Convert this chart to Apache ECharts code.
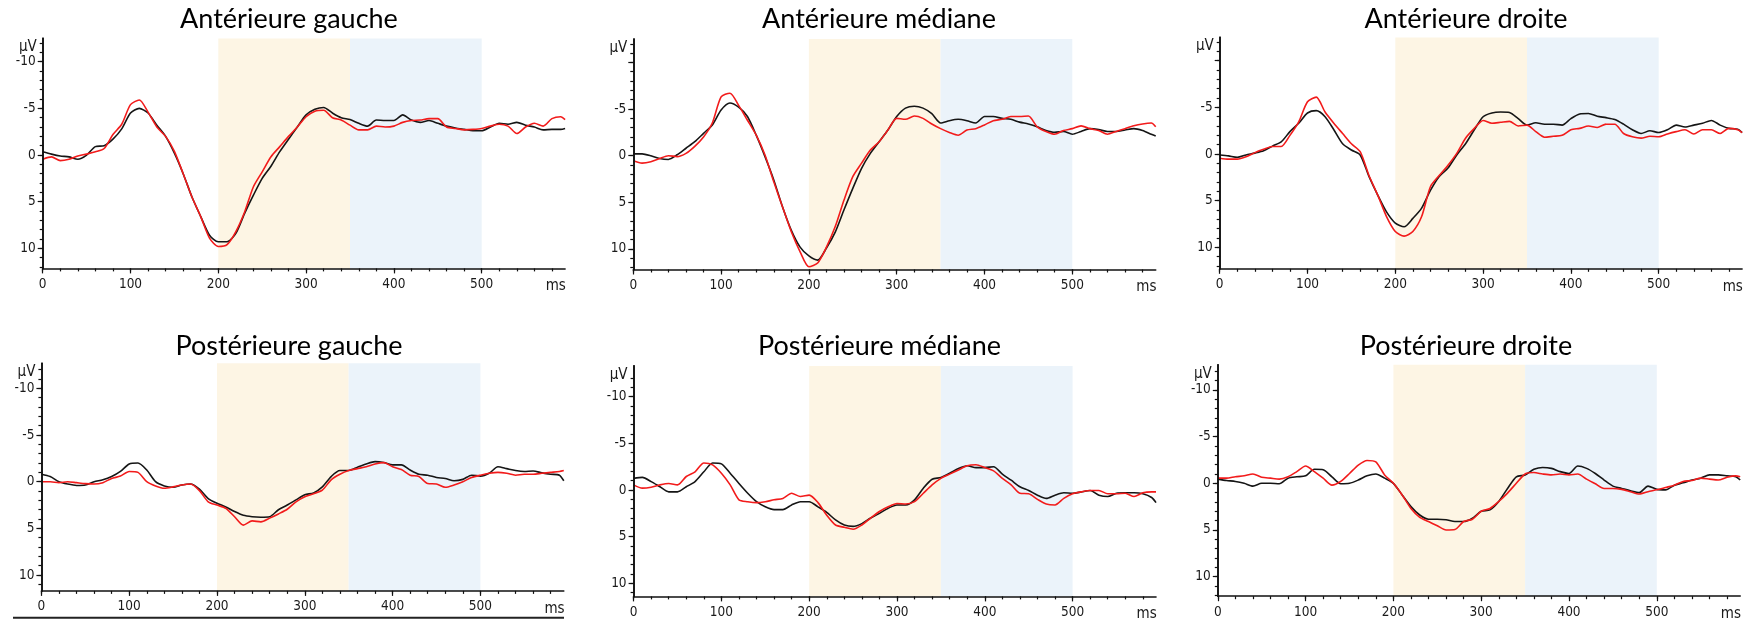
<!DOCTYPE html>
<html>
<head>
<meta charset="utf-8">
<script src="https://cdn.jsdelivr.net/npm/echarts@6/dist/echarts.min.js"></script>
<style>
html, body { margin: 0; padding: 0; background: #fff; }
#chart { width: 1756px; height: 621px; }
</style>
</head>
<body>
<div id="chart"></div>
<script>
// time axis (ms)
var times = [0,10,20,30,40,50,60,70,80,90,100,110,120,130,140,150,160,170,180,190,
  200,210,220,230,240,250,260,270,280,290,300,310,320,330,340,350,360,370,380,390,
  400,410,420,430,440,450,460,470,480,490,500,510,520,530,540,550,560,570,580,590,595];

var titles = ['Antérieure gauche', 'Antérieure médiane', 'Antérieure droite',
  'Postérieure gauche', 'Postérieure médiane', 'Postérieure droite'];

// µV, negative up
var antGaucheBlack = [-0.35,-0.1,0.1,0.2,0.45,0,-0.9,-1.0,-1.7,-2.8, -4.5,-5.0,-4.5,-3.2,-2.0,-0.2,2.0,4.5,6.6,8.6,
  9.3,9.3,8.4,6.25,4.3,2.5,1.2,-0.36,-1.7,-3.0, -4.3,-4.9,-5.1,-4.5,-4.0,-3.8,-3.4,-3.1,-3.75,-3.7,
  -3.7,-4.3,-3.75,-3.5,-3.7,-3.4,-3.1,-2.9,-2.75,-2.6, -2.6,-3.0,-3.4,-3.3,-3.5,-3.2,-3.0,-2.7,-2.75,-2.75, -2.85];
var antGaucheRed = [0.45,0.2,0.6,0.45,0.1,-0.1,-0.35,-0.7,-2.2,-3.3, -5.4,-5.9,-4.6,-3.0,-2.0,-0.4,2.0,4.5,6.6,8.9,
  9.8,9.6,8.2,6.1,3.4,1.8,0.18,-0.9,-2.0,-3.0, -4.1,-4.7,-4.8,-4.0,-3.75,-3.2,-2.7,-2.7,-3.1,-3.0,
  -3.1,-3.5,-3.7,-3.75,-3.9,-3.9,-3.0,-2.85,-2.7,-2.75, -2.85,-3.1,-3.3,-3.1,-2.3,-3.0,-3.4,-3.1,-3.9,-4.1, -3.8];

var antMedianeBlack = [-0.2,-0.2,0,0.3,0.4,-0.1,-0.8,-1.5,-2.4,-3.3, -4.9,-5.65,-5.2,-4.2,-2.2,0.1,2.6,5.5,8.0,9.8,
  10.75,11.2,9.9,8.2,5.8,3.5,1.35,-0.25,-1.5,-2.75, -4.2,-5.1,-5.3,-5.1,-4.5,-3.5,-3.75,-3.9,-3.75,-3.5,
  -4.2,-4.2,-4.0,-3.9,-3.6,-3.4,-3.1,-2.7,-2.5,-2.6, -2.3,-2.6,-2.9,-2.8,-2.6,-2.6,-2.75,-2.9,-2.7,-2.3, -2.1];
var antMedianeRed = [0.55,0.8,0.65,0.3,0,0.1,-0.25,-1.0,-2.0,-3.5, -6.3,-6.7,-5.4,-3.8,-2.2,-0.07,2.8,5.5,8.15,10.3,
  11.9,11.5,9.8,7.6,4.75,2.25,0.8,-0.6,-1.5,-2.75, -4.0,-3.9,-4.25,-4.0,-3.4,-2.9,-2.5,-2.2,-2.75,-2.9,
  -3.3,-3.75,-3.9,-4.2,-4.2,-4.25,-3.1,-2.6,-2.3,-2.7, -2.9,-3.2,-2.9,-2.7,-2.3,-2.6,-2.9,-3.2,-3.4,-3.5, -3.1];

var antDroiteBlack = [0.1,0.2,0.35,0.1,-0.1,-0.35,-0.85,-1.3,-2.4,-3.3, -4.4,-4.65,-4.0,-2.6,-1.1,-0.43,0.1,2.4,4.4,6.2,
  7.4,7.8,6.9,5.8,3.9,2.4,1.5,0.1,-1.1,-2.6, -4.0,-4.4,-4.5,-4.45,-3.8,-3.1,-3.35,-3.2,-3.2,-3.1,
  -3.8,-4.3,-4.35,-4.05,-3.9,-3.7,-3.2,-2.6,-2.2,-2.5, -2.3,-2.6,-3.1,-2.9,-3.1,-3.3,-3.6,-3.1,-2.75,-2.65, -2.3];
var antDroiteRed = [0.45,0.55,0.55,0.3,-0.15,-0.5,-0.8,-0.8,-2.0,-3.45, -5.6,-6.1,-4.5,-3.3,-2.2,-1.1,-0.25,2.3,4.4,6.7,
  8.3,8.8,8.3,6.7,3.5,2.3,1.2,-0.07,-1.7,-2.75, -3.6,-3.3,-3.4,-3.5,-3.0,-3.1,-2.4,-1.8,-1.9,-2.0,
  -2.6,-2.75,-3.0,-2.85,-3.2,-3.2,-2.2,-1.85,-1.7,-1.9, -1.85,-2.15,-2.4,-2.6,-2.15,-2.6,-2.6,-2.2,-2.75,-2.6, -2.3];

var postGaucheBlack = [-0.8,-0.55,0,0.25,0.4,0.35,0,-0.2,-0.55,-1.1, -1.9,-2.0,-1.25,0,0.45,0.6,0.35,0.25,0.8,1.8,
  2.3,2.7,3.2,3.6,3.75,3.8,3.75,3.0,2.5,1.95, 1.4,1.2,0.55,-0.55,-1.2,-1.2,-1.55,-1.9,-2.15,-2.05,
  -1.8,-1.8,-1.25,-0.8,-0.7,-0.45,-0.35,-0.1,-0.25,-0.7, -0.6,-0.9,-1.6,-1.4,-1.2,-1.1,-1.15,-0.95,-0.8,-0.7, -0.1];
var postGaucheRed = [0,0,0.1,0,0.1,0.2,0.25,0.1,-0.35,-0.6, -1.1,-1.0,0,0.45,0.7,0.55,0.35,0.25,0.95,2.15,
  2.5,2.85,3.75,4.65,4.2,4.3,3.9,3.45,2.95,2.15, 1.6,1.3,0.9,-0.2,-0.8,-1.2,-1.4,-1.6,-1.9,-2.05,
  -1.6,-1.3,-0.7,-0.55,0.2,0.25,0.6,0.35,0,-0.45, -0.7,-0.9,-1.0,-0.9,-0.7,-0.8,-0.8,-0.9,-1.0,-1.1, -1.2];

var postMedianeBlack = [-1.25,-1.35,-0.9,-0.35,0.2,0.2,-0.35,-0.9,-1.95,-2.9, -2.8,-1.8,-0.7,0.35,1.25,1.8,2.1,2.1,1.6,1.25,
  1.25,1.8,2.4,3.2,3.75,3.9,3.6,3.0,2.5,1.95, 1.6,1.6,1.05,-0.2,-1.15,-1.35,-1.8,-2.3,-2.6,-2.4,
  -2.4,-2.5,-1.7,-1.05,-0.35,0.05,0.55,0.9,0.55,0.3, 0.35,0.2,0.05,0.55,0.7,0.35,0.3,0.3,0.4,0.8, 1.35];
var postMedianeRed = [-0.55,-0.2,-0.3,-0.55,-0.7,-0.55,-1.45,-1.95,-2.9,-2.7, -1.8,-0.55,1.05,1.25,1.35,1.25,1.05,0.9,0.35,0.7,
  0.55,1.35,2.7,3.75,4.0,4.2,3.75,3.0,2.3,1.8, 1.45,1.5,1.25,0.35,-0.55,-1.25,-1.7,-2.15,-2.6,-2.7,
  -2.4,-2.05,-1.25,-0.55,0.35,0.4,1.0,1.5,1.6,0.9, 0.4,0.2,0.05,0.05,0.4,0.4,0.35,0.7,0.3,0.2, 0.2];

var postDroiteBlack = [-0.45,-0.3,-0.2,0,0.3,0,0,0.05,-0.55,-0.7, -0.8,-1.5,-1.45,-0.7,0.05,0,-0.35,-0.8,-1.0,-0.55,
  0,1.25,2.5,3.4,3.85,3.85,3.9,4.1,4.1,3.75, 3.0,2.85,1.95,0.55,-0.7,-0.9,-1.5,-1.7,-1.6,-1.25,
  -1.05,-1.85,-1.6,-1.05,-0.35,0.3,0.55,0.8,1.0,0.3, 0.65,0.7,0.2,-0.05,-0.35,-0.55,-0.9,-0.9,-0.8,-0.7, -0.35];
var postDroiteRed = [-0.55,-0.55,-0.7,-0.8,-1.0,-0.65,-0.55,-0.45,-0.7,-1.25, -1.85,-1.25,-0.55,0.2,-0.2,-1.05,-1.95,-2.45,-2.3,-0.9,
  0,1.25,2.7,3.65,4.1,4.55,5.0,4.95,4.1,3.85, 3.0,2.7,1.95,1.05,0,-1.0,-1.15,-1.0,-0.9,-1.0,
  -0.9,-1.0,-0.45,0.05,0.55,0.55,0.65,0.9,1.15,0.9, 0.7,0.45,0.2,-0.2,-0.3,-0.55,-0.45,-0.35,-0.65,-0.8, -0.7];

var blackSeries = [antGaucheBlack, antMedianeBlack, antDroiteBlack, postGaucheBlack, postMedianeBlack, postDroiteBlack];
var redSeries = [antGaucheRed, antMedianeRed, antDroiteRed, postGaucheRed, postMedianeRed, postDroiteRed];

// analysis windows (ms)
var windowEarly = [200, 350];
var windowLate = [350, 500];

// ticks and labels
var xLabelValues = [0, 100, 200, 300, 400, 500];
var xMinorTicks = [0,20,40,60,80,100,120,140,160,180,200,220,240,260,280,300,320,340,360,380,400,420,440,460,480,500,520,540,560,580];
var yLabelsFull = [-10, -5, 0, 5, 10];
var yLabelsNoTop = [-5, 0, 5, 10];
var yMinorTicks = [-12,-11,-10,-9,-8,-7,-6,-5,-4,-3,-2,-1,0,1,2,3,4,5,6,7,8,9,10,11,12];
var panelYLabels = [yLabelsFull, yLabelsNoTop, yLabelsNoTop, yLabelsFull, yLabelsFull, yLabelsFull];
var xMax = 595;
var yTopValue = [-12.5, -12.5, -12.5, -12.7, -13.3, -12.7];
var yBottomValue = [12.15, 12.2, 12.3, 11.7, 11.4, 12.1];

// layout (px)
var panelLeft = [42.7, 633.3, 1219.7, 41.4, 633.6, 1217.8];
var panelTop = [38.4, 39.1, 37.4, 363.2, 365.9, 364.8];
var panelBottom = [268.4, 269.5, 268.8, 590.9, 596.4, 596.2];
var panelWidth = 522.4;
var titleX = [289, 879, 1466, 289, 879.5, 1466];
var titleTop = [6, 6, 6, 333, 333, 333];

var tickFont = '"DejaVu Sans Condensed", "DejaVu Sans", sans-serif';
var axisColor = '#111';

function pairs(vals) {
  return times.map(function (t, k) { return [t, vals[k]]; });
}

var dom = document.getElementById('chart');
var myChart = echarts.init(dom, null, { renderer: 'canvas' });

var grid = [], xAxis = [], yAxis = [], series = [], title = [], graphic = [];

for (var i = 0; i < 6; i++) {
  grid.push({
    left: panelLeft[i], top: panelTop[i],
    width: panelWidth, height: panelBottom[i] - panelTop[i],
    containLabel: false
  });
  title.push({
    text: titles[i], left: titleX[i], top: titleTop[i], textAlign: 'center', padding: 0,
    textStyle: { fontFamily: 'Lato', fontSize: 27, fontWeight: 'normal', color: '#000' }
  });
  // major x axis
  xAxis.push({
    type: 'value', gridIndex: i, position: 'bottom', min: 0, max: xMax, z: 5,
    axisLine: { show: true, onZero: false, lineStyle: { color: axisColor, width: 1.6 } },
    axisTick: { show: true, customValues: xLabelValues, length: 5, lineStyle: { color: axisColor, width: 1.2 } },
    axisLabel: { customValues: xLabelValues, margin: 9, color: '#1a1a1a', fontSize: 13.5, fontFamily: tickFont },
    splitLine: { show: false }
  });
  // minor x ticks
  xAxis.push({
    type: 'value', gridIndex: i, position: 'bottom', min: 0, max: xMax, z: 5,
    axisLine: { show: false, onZero: false },
    axisTick: { show: true, customValues: xMinorTicks, length: 3, lineStyle: { color: axisColor, width: 1.2 } },
    axisLabel: { show: false },
    splitLine: { show: false }
  });
  // major y axis
  yAxis.push({
    type: 'value', gridIndex: i, position: 'left', inverse: true, min: yTopValue[i], max: yBottomValue[i], z: 5,
    axisLine: { show: true, onZero: false, lineStyle: { color: axisColor, width: 1.6 } },
    axisTick: { show: true, customValues: yLabelsFull, length: 5, lineStyle: { color: axisColor, width: 1.2 } },
    axisLabel: { customValues: panelYLabels[i], margin: 7, color: '#1a1a1a', fontSize: 13.5, fontFamily: tickFont },
    splitLine: { show: false }
  });
  // minor y ticks
  yAxis.push({
    type: 'value', gridIndex: i, position: 'left', inverse: true, min: yTopValue[i], max: yBottomValue[i], z: 5,
    axisLine: { show: true, onZero: false, lineStyle: { color: axisColor, width: 1.6 } },
    axisTick: { show: true, customValues: yMinorTicks, length: 3, lineStyle: { color: axisColor, width: 1.2 } },
    axisLabel: { show: false },
    splitLine: { show: false }
  });

  // shaded analysis windows
  series.push({
    type: 'line', xAxisIndex: 2 * i, yAxisIndex: 2 * i, data: [], z: 1, silent: true,
    markArea: {
      silent: true,
      data: [
        [{ xAxis: windowEarly[0], itemStyle: { color: '#fdf5e4' } }, { xAxis: windowEarly[1] }],
        [{ xAxis: windowLate[0], itemStyle: { color: '#ebf3fa' } }, { xAxis: windowLate[1] }]
      ]
    }
  });
  series.push({
    type: 'line', xAxisIndex: 2 * i, yAxisIndex: 2 * i, data: pairs(blackSeries[i]),
    showSymbol: false, smooth: 0.25, z: 2, silent: true,
    lineStyle: { color: '#151515', width: 1.6 }
  });
  series.push({
    type: 'line', xAxisIndex: 2 * i, yAxisIndex: 2 * i, data: pairs(redSeries[i]),
    showSymbol: false, smooth: 0.25, z: 3, silent: true,
    lineStyle: { color: '#f21b1b', width: 1.6 }
  });

  // unit labels
  graphic.push({
    type: 'text', x: panelLeft[i] - 6, y: panelTop[i] + 9, z: 10,
    style: { text: 'µV', fill: '#1a1a1a', font: '15px ' + tickFont,
      textAlign: 'right', textVerticalAlign: 'middle', align: 'right', verticalAlign: 'middle' }
  });
  graphic.push({
    type: 'text', x: panelLeft[i] + 503, y: panelBottom[i] + 18, z: 10,
    style: { text: 'ms', fill: '#1a1a1a', font: '15px ' + tickFont,
      textAlign: 'left', textVerticalAlign: 'middle', align: 'left', verticalAlign: 'middle' }
  });
  // the source panels were cropped at the axis end
  graphic.push({
    type: 'rect', z: 11,
    shape: { x: panelLeft[i] + panelWidth + 1, y: panelBottom[i] + 4, width: 22, height: 26 },
    style: { fill: '#fff' }
  });
}

graphic.push({
  type: 'line', z: 10,
  shape: { x1: 13, y1: 617.7, x2: 564, y2: 617.7 },
  style: { stroke: '#222', lineWidth: 2 }
});

var option = {
  animation: false,
  backgroundColor: '#fff',
  title: title,
  grid: grid,
  xAxis: xAxis,
  yAxis: yAxis,
  series: series,
  graphic: graphic
};

myChart.setOption(option, true);
</script>
</body>
</html>
